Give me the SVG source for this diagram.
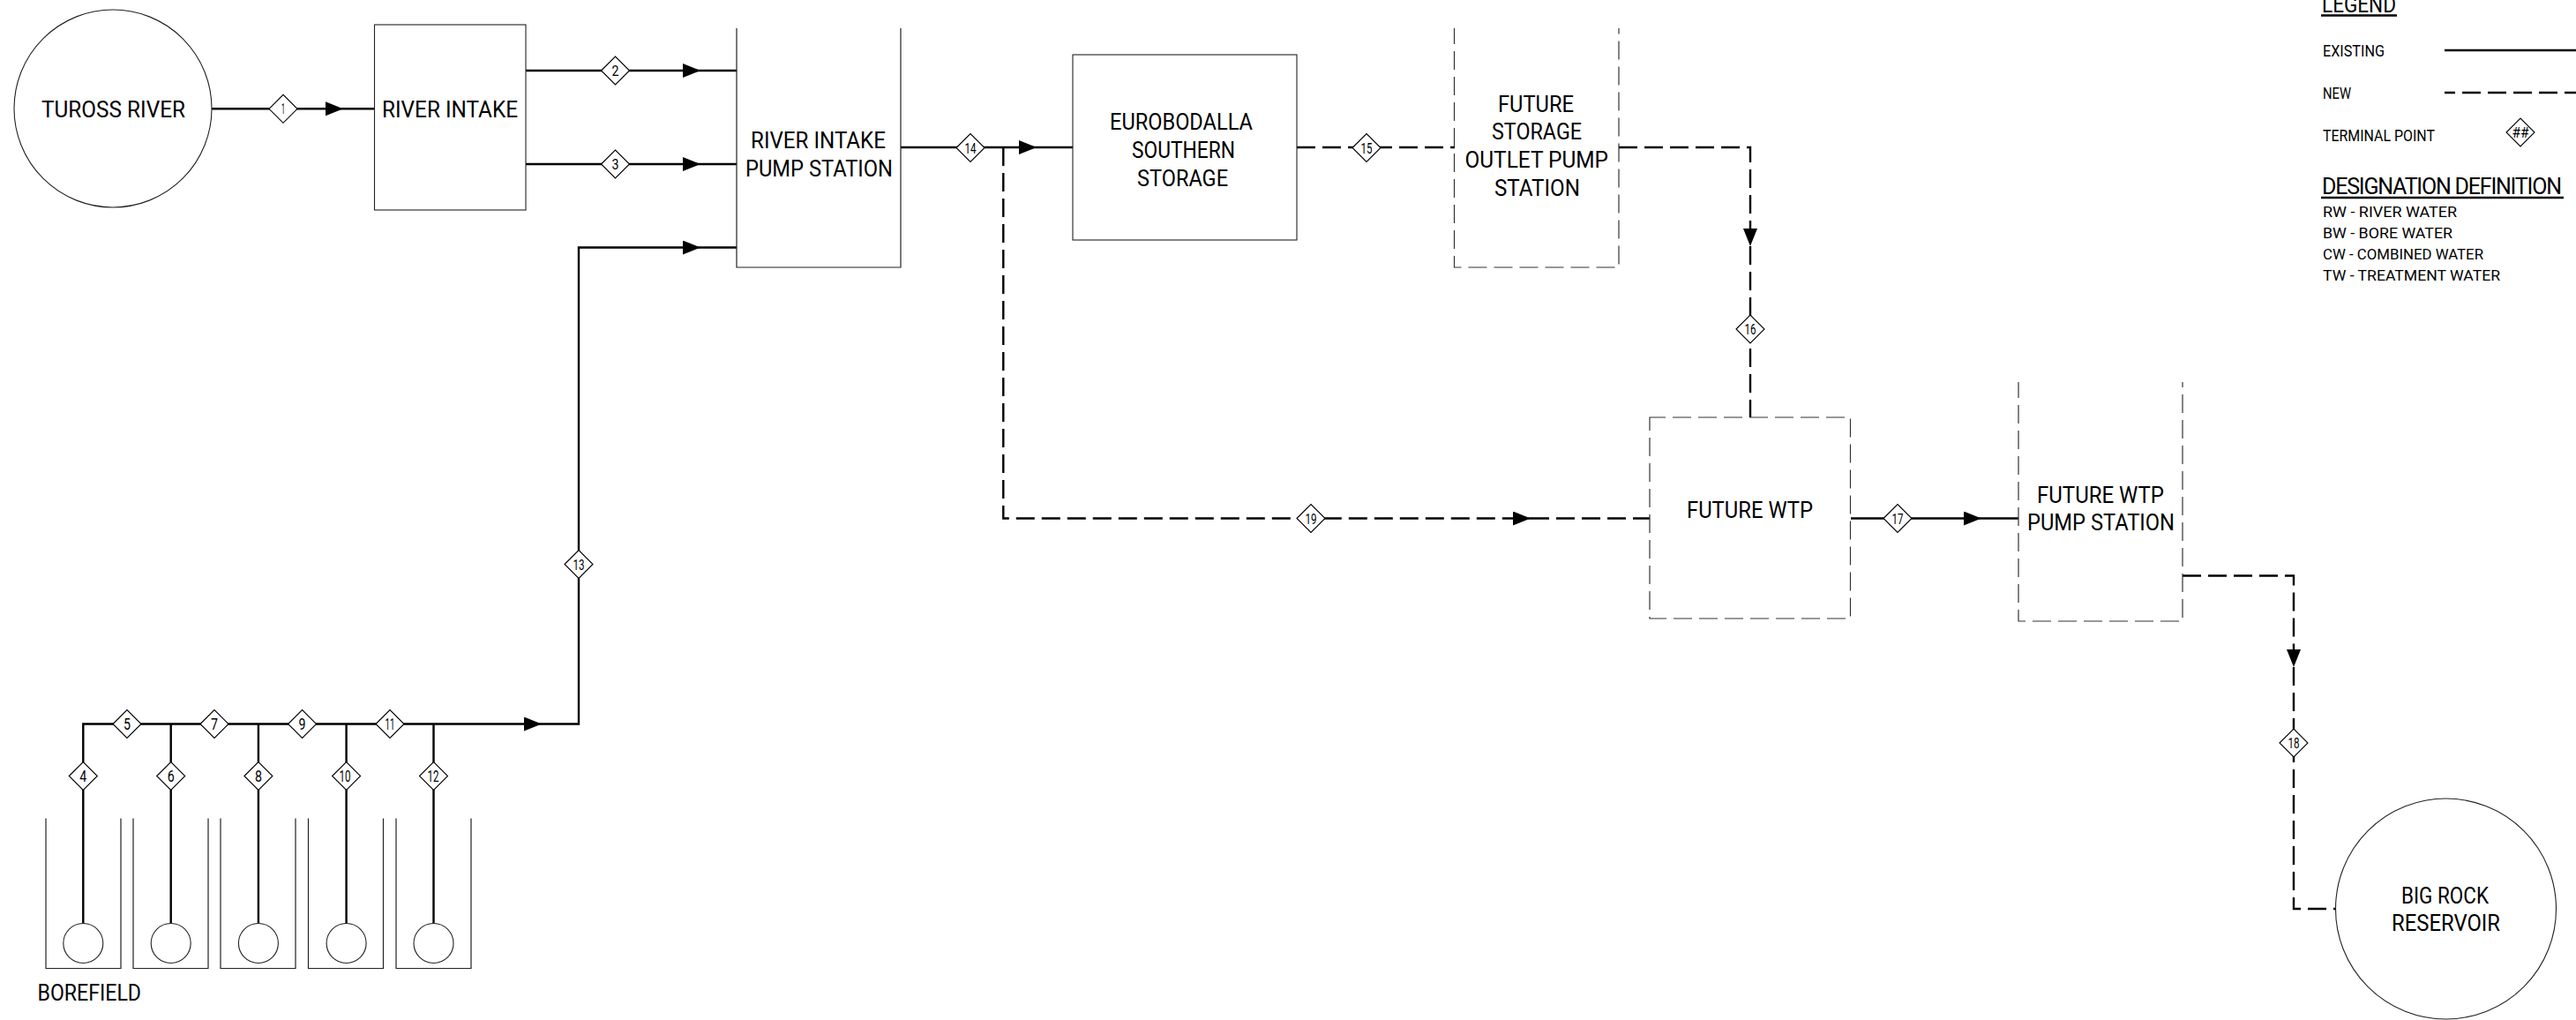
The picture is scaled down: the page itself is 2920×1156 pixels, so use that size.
<svg xmlns="http://www.w3.org/2000/svg" width="2920" height="1156" viewBox="0 0 2920 1156">
<style>
text{font-family:"Roboto","Liberation Sans",sans-serif;font-weight:400;fill:#000}
.l{font-size:25px}
.s{font-size:18px}
.d{font-size:17px}
.n{font-size:16px;text-anchor:middle}
.b{font-size:18.500px;text-anchor:middle}
.box{fill:#fff;stroke:#222;stroke-width:1.1}
.fut{fill:none;stroke:#333;stroke-width:1.2;stroke-dasharray:21 8;stroke-dashoffset:3}
.thin{fill:none;stroke:#222;stroke-width:1.2}
.c{fill:none;stroke:#000;stroke-width:2.4}
.dash{stroke-dasharray:21 8}
.t{fill:#fff;stroke:#000;stroke-width:1.1}
</style>
<defs>
<marker id="a" markerUnits="userSpaceOnUse" markerWidth="20" markerHeight="16" refX="20" refY="8" orient="auto"><path d="M0 0L20 8L0 16z" fill="#000"/></marker>
<path id="dia" d="M-16 0L0-16L16 0L0 16z"/>
</defs>
<g id="connectors">
<path class="c" d="M240 123.300H389" marker-end="url(#a)"/><path class="c" d="M389 123.300H425"/>
<path class="c" d="M596 80H794" marker-end="url(#a)"/><path class="c" d="M794 80H835"/>
<path class="c" d="M596 186H794" marker-end="url(#a)"/><path class="c" d="M794 186H835"/>
<path class="c" d="M94.300 1047V820.500H614" marker-end="url(#a)"/><path class="c" d="M614 820.500H656V280.500H794" marker-end="url(#a)"/><path class="c" d="M794 280.500H835"/>
<path class="c" d="M193.700 1047V820.500M292.900 1047V820.500M392.600 1047V820.500M491.500 1047V820.500"/>
<path class="c" d="M1021 167H1175" marker-end="url(#a)"/><path class="c" d="M1175 167H1216"/>
<path class="c dash" d="M1137.300 167V587.500H1735" marker-end="url(#a)"/><path class="c dash" d="M1735 587.500H1870"/>
<path class="c dash" d="M1470 167H1649"/>
<path class="c dash" d="M1835 167H1984V279" marker-end="url(#a)"/><path class="c dash" d="M1984 279V473"/>
<path class="c" d="M2098 587.500H2246" marker-end="url(#a)"/><path class="c" d="M2246 587.500H2288"/>
<path class="c dash" d="M2474 652.500H2600V756" marker-end="url(#a)"/><path class="c dash" d="M2600 756V1030H2647"/>
</g>
<g id="tuross-river"><circle class="box" cx="128" cy="123" r="112"/><text class="l" x="47" y="133" textLength="163" lengthAdjust="spacingAndGlyphs">TUROSS RIVER</text></g>
<g id="river-intake"><rect class="box" x="424.500" y="28" width="171.500" height="210"/><text class="l" x="433" y="133" textLength="154" lengthAdjust="spacingAndGlyphs">RIVER INTAKE</text></g>
<g id="river-intake-pump-station"><path class="thin" d="M835 32V303H1021V32"/><text class="l" x="851" y="168" textLength="153" lengthAdjust="spacingAndGlyphs">RIVER INTAKE</text><text class="l" x="845" y="200" textLength="167" lengthAdjust="spacingAndGlyphs">PUMP STATION</text></g>
<g id="eurobodalla-southern-storage"><rect class="box" x="1216" y="62" width="254" height="210"/><text class="l" x="1258" y="147" textLength="162" lengthAdjust="spacingAndGlyphs">EUROBODALLA</text><text class="l" x="1283" y="179" textLength="117" lengthAdjust="spacingAndGlyphs">SOUTHERN</text><text class="l" x="1289" y="211" textLength="103" lengthAdjust="spacingAndGlyphs">STORAGE</text></g>
<g id="future-storage-outlet-pump-station"><path class="fut" d="M1648.500 32V303H1835V32"/><text class="l" x="1698" y="127" textLength="86" lengthAdjust="spacingAndGlyphs">FUTURE</text><text class="l" x="1691" y="158" textLength="102" lengthAdjust="spacingAndGlyphs">STORAGE</text><text class="l" x="1660.500" y="190" textLength="162.500" lengthAdjust="spacingAndGlyphs">OUTLET PUMP</text><text class="l" x="1694" y="222" textLength="97" lengthAdjust="spacingAndGlyphs">STATION</text></g>
<g id="future-wtp"><rect class="fut" x="1870" y="473" width="227.500" height="228"/><text class="l" x="1912" y="587" textLength="143" lengthAdjust="spacingAndGlyphs">FUTURE WTP</text></g>
<g id="future-wtp-pump-station"><path class="fut" d="M2288 433V704H2474V433"/><text class="l" x="2309" y="570" textLength="144" lengthAdjust="spacingAndGlyphs">FUTURE WTP</text><text class="l" x="2298" y="601" textLength="167" lengthAdjust="spacingAndGlyphs">PUMP STATION</text></g>
<g id="big-rock-reservoir"><circle class="box" cx="2772.500" cy="1030" r="125"/><text class="l" x="2722" y="1024" textLength="99" lengthAdjust="spacingAndGlyphs">BIG ROCK</text><text class="l" x="2711" y="1055" textLength="123" lengthAdjust="spacingAndGlyphs">RESERVOIR</text></g>
<g id="borefield">
<path class="thin" d="M52 927.500V1097.500H137V927.500M151 927.500V1097.500H236V927.500M250 927.500V1097.500H335V927.500M349.500 927.500V1097.500H434.500V927.500M449 927.500V1097.500H534V927.500"/>
<circle class="box" cx="94.300" cy="1069" r="22.500"/><circle class="box" cx="193.700" cy="1069" r="22.500"/><circle class="box" cx="292.900" cy="1069" r="22.500"/><circle class="box" cx="392.600" cy="1069" r="22.500"/><circle class="box" cx="491.500" cy="1069" r="22.500"/>
<text class="l" x="42.500" y="1133.500" textLength="117.500" lengthAdjust="spacingAndGlyphs">BOREFIELD</text>
</g>
<g id="tp-1"><use class="t" href="#dia" x="321" y="123.300"/><text class="n" x="321" y="129" textLength="4" lengthAdjust="spacingAndGlyphs">1</text></g>
<g id="tp-2"><use class="t" href="#dia" x="697.500" y="80"/><text class="n" x="697.500" y="86" textLength="8" lengthAdjust="spacingAndGlyphs">2</text></g>
<g id="tp-3"><use class="t" href="#dia" x="697.500" y="186"/><text class="n" x="697.500" y="192" textLength="8" lengthAdjust="spacingAndGlyphs">3</text></g>
<g id="tp-4"><use class="t" href="#dia" x="94.300" y="879.500"/><text class="b" x="94.300" y="886" textLength="8" lengthAdjust="spacingAndGlyphs">4</text></g>
<g id="tp-5"><use class="t" href="#dia" x="144" y="820.500"/><text class="b" x="144" y="827" textLength="8" lengthAdjust="spacingAndGlyphs">5</text></g>
<g id="tp-6"><use class="t" href="#dia" x="193.700" y="879.500"/><text class="b" x="193.700" y="886" textLength="8" lengthAdjust="spacingAndGlyphs">6</text></g>
<g id="tp-7"><use class="t" href="#dia" x="243" y="820.500"/><text class="b" x="243" y="827" textLength="8" lengthAdjust="spacingAndGlyphs">7</text></g>
<g id="tp-8"><use class="t" href="#dia" x="292.900" y="879.500"/><text class="b" x="292.900" y="886" textLength="8" lengthAdjust="spacingAndGlyphs">8</text></g>
<g id="tp-9"><use class="t" href="#dia" x="342.600" y="820.500"/><text class="b" x="342.600" y="827" textLength="8" lengthAdjust="spacingAndGlyphs">9</text></g>
<g id="tp-10"><use class="t" href="#dia" x="392.600" y="879.500"/><text class="b" x="391" y="886" textLength="13" lengthAdjust="spacingAndGlyphs">10</text></g>
<g id="tp-11"><use class="t" href="#dia" x="442" y="820.500"/><text class="b" x="442" y="827" textLength="11" lengthAdjust="spacingAndGlyphs">11</text></g>
<g id="tp-12"><use class="t" href="#dia" x="491.500" y="879.500"/><text class="b" x="491" y="886" textLength="13" lengthAdjust="spacingAndGlyphs">12</text></g>
<g id="tp-13"><use class="t" href="#dia" x="656" y="639.500"/><text class="n" x="656" y="645.500" textLength="13" lengthAdjust="spacingAndGlyphs">13</text></g>
<g id="tp-14"><use class="t" href="#dia" x="1100" y="167.500"/><text class="n" x="1100" y="173.500" textLength="13" lengthAdjust="spacingAndGlyphs">14</text></g>
<g id="tp-15"><use class="t" href="#dia" x="1549" y="167.500"/><text class="n" x="1549" y="173.500" textLength="13" lengthAdjust="spacingAndGlyphs">15</text></g>
<g id="tp-16"><use class="t" href="#dia" x="1984" y="373"/><text class="n" x="1984" y="379" textLength="13" lengthAdjust="spacingAndGlyphs">16</text></g>
<g id="tp-17"><use class="t" href="#dia" x="2151" y="587.500"/><text class="n" x="2151" y="593.500" textLength="13" lengthAdjust="spacingAndGlyphs">17</text></g>
<g id="tp-18"><use class="t" href="#dia" x="2600" y="842"/><text class="n" x="2600" y="848" textLength="13" lengthAdjust="spacingAndGlyphs">18</text></g>
<g id="tp-19"><use class="t" href="#dia" x="1486" y="587.500"/><text class="n" x="1486" y="593.500" textLength="13" lengthAdjust="spacingAndGlyphs">19</text></g>
<g id="legend">
<text class="l" x="2632" y="14" textLength="84" lengthAdjust="spacingAndGlyphs">LEGEND</text><path class="c" d="M2631 17.500H2717"/>
<text class="s" x="2633" y="64" textLength="70" lengthAdjust="spacingAndGlyphs">EXISTING</text><path class="c" d="M2771 57H2920"/>
<text class="s" x="2633" y="112" textLength="32" lengthAdjust="spacingAndGlyphs">NEW</text><path class="c dash" d="M2771 105H2920" stroke-dashoffset="9"/>
<text class="s" x="2633" y="160" textLength="127" lengthAdjust="spacingAndGlyphs">TERMINAL POINT</text>
<use class="t" href="#dia" x="2857" y="150"/><text class="n" x="2857" y="156" textLength="19" lengthAdjust="spacingAndGlyphs">##</text>
<text class="l" x="2632" y="220" textLength="272" lengthAdjust="spacing">DESIGNATION DEFINITION</text><path class="c" d="M2631 224H2906"/>
<text class="d" x="2633" y="246" textLength="152" lengthAdjust="spacingAndGlyphs">RW - RIVER WATER</text>
<text class="d" x="2633" y="270" textLength="147" lengthAdjust="spacingAndGlyphs">BW - BORE WATER</text>
<text class="d" x="2633" y="294" textLength="182" lengthAdjust="spacingAndGlyphs">CW - COMBINED WATER</text>
<text class="d" x="2633" y="318" textLength="201" lengthAdjust="spacingAndGlyphs">TW - TREATMENT WATER</text>
</g>
</svg>
